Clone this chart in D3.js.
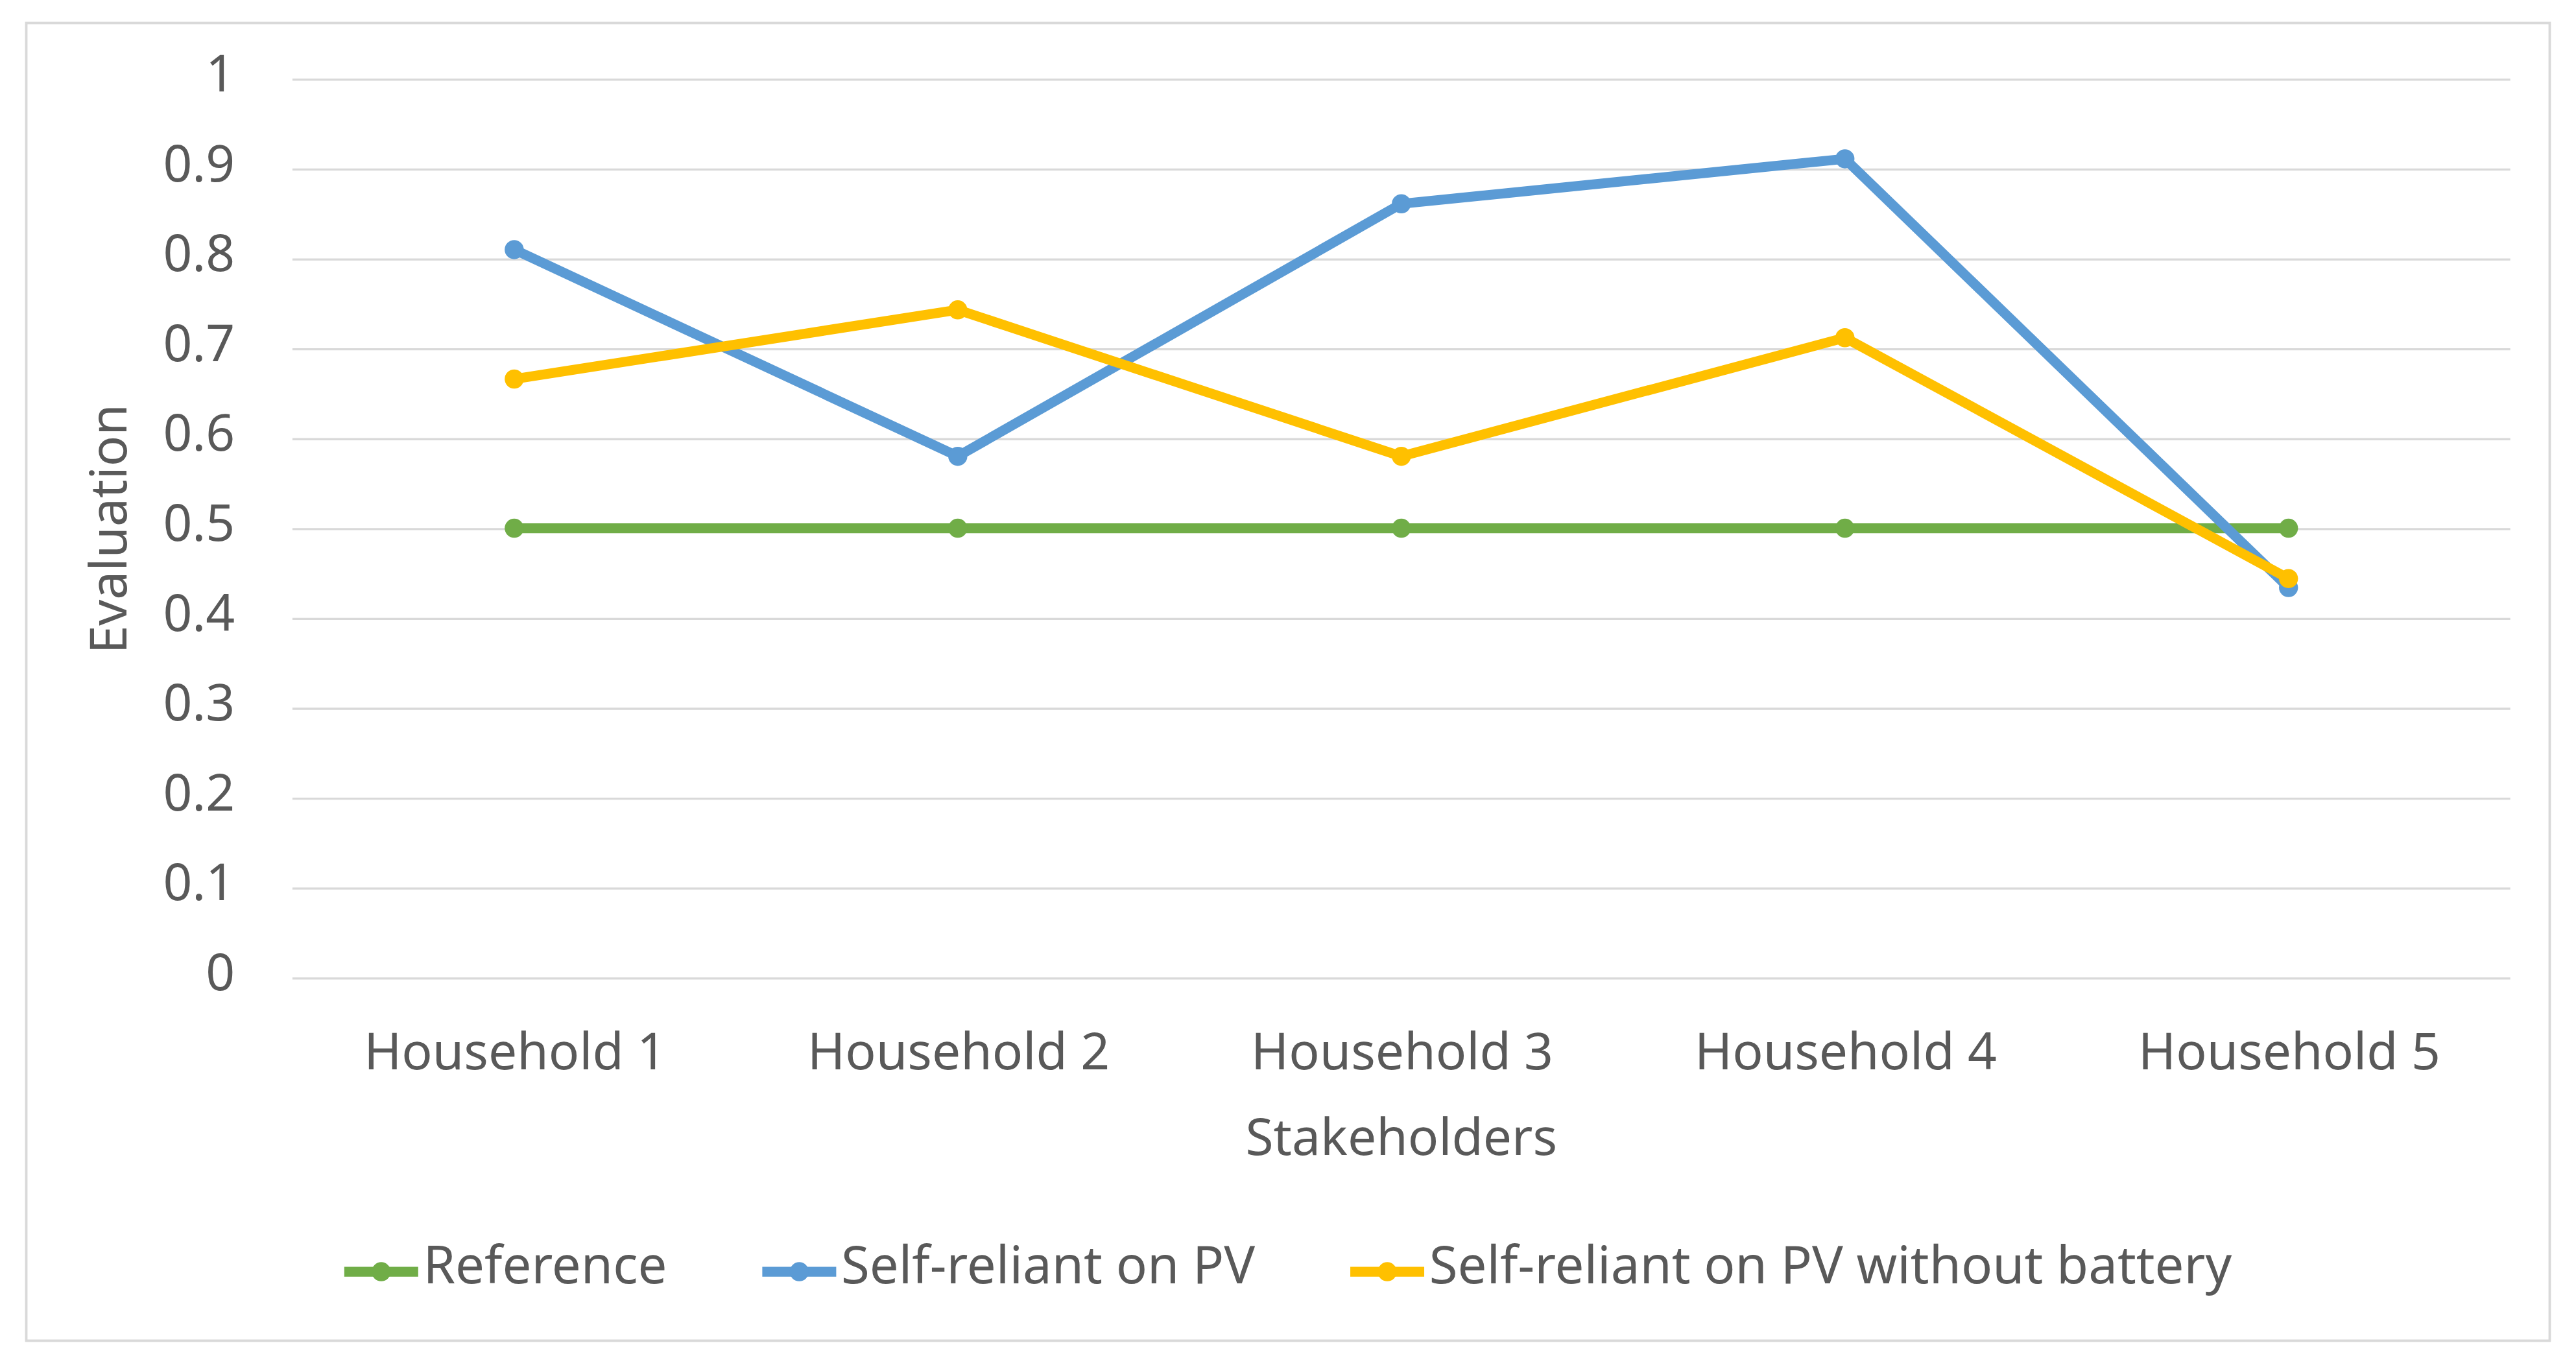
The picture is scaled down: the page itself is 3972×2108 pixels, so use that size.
<!DOCTYPE html>
<html>
<head>
<meta charset="utf-8">
<script src="https://cdn.jsdelivr.net/npm/d3@7"></script>
<style>
  html, body { margin: 0; padding: 0; background: #fff; }
  svg { display: block; }
  text { font-family: "Noto Sans", "Open Sans", sans-serif; fill: #595959; }
</style>
</head>
<body>
<div id="chart"></div>
<script>
// chart data
var categories = ["Household 1", "Household 2", "Household 3", "Household 4", "Household 5"];
var referenceVals = [0.5, 0.5, 0.5, 0.5, 0.5];
var selfReliantVals = [0.81, 0.58, 0.861, 0.911, 0.434];
var noBatteryVals = [0.666, 0.743, 0.58, 0.712, 0.444];
var seriesNames = ["Reference", "Self-reliant on PV", "Self-reliant on PV without battery"];
var yTickVals = [0, 0.1, 0.2, 0.3, 0.4, 0.5, 0.6, 0.7, 0.8, 0.9, 1];
var yTickLabels = ["0", "0.1", "0.2", "0.3", "0.4", "0.5", "0.6", "0.7", "0.8", "0.9", "1"];

var colors = ["#70ad47", "#5b9bd5", "#ffc000"];

// drawing in a 1568 x 832 coordinate space, stretched to the window
var W = 1568, H = 832;
var plot = {left: 178, right: 1528, top: 48, bottom: 595};
var fs = 31;

var svg = d3.select("#chart")
  .append("svg")
    .attr("width", 3972)
    .attr("height", 2108)
    .attr("viewBox", "0 0 " + W + " " + H)
    .attr("preserveAspectRatio", "none");

svg.append("rect")
  .attr("width", W).attr("height", H).attr("fill", "#fff");

// outer frame
svg.append("rect")
  .attr("x", 16).attr("y", 14)
  .attr("width", 1536).attr("height", 802)
  .attr("fill", "none")
  .attr("stroke", "#d9d9d9")
  .attr("stroke-width", 1.5);

var x = d3.scalePoint()
  .domain(categories)
  .range([plot.left, plot.right])
  .padding(0.5);

var y = d3.scaleLinear()
  .domain([0, 1])
  .range([plot.bottom, plot.top]);

// gridlines + y labels
var yAxis = svg.append("g")
  .attr("transform", "translate(" + plot.left + ",0)")
  .call(d3.axisLeft(y)
    .tickValues(yTickVals)
    .tickSize(-(plot.right - plot.left))
    .tickPadding(35)
    .tickFormat(function(d, i) { return yTickLabels[i]; }));
yAxis.select(".domain").remove();
yAxis.selectAll("line").attr("stroke", "#d9d9d9").attr("stroke-width", 1.3);
yAxis.selectAll("text")
  .attr("dy", "0.23em")
  .style("font-size", fs + "px")
  .style("font-family", "'Noto Sans', sans-serif")
  .attr("fill", "#595959");

// x labels
var xAxis = svg.append("g")
  .attr("transform", "translate(0," + plot.bottom + ")")
  .call(d3.axisBottom(x).tickSize(0));
xAxis.select(".domain").remove();
xAxis.selectAll("text")
  .attr("y", 56)
  .attr("dy", 0)
  .style("font-size", fs + "px")
  .style("font-family", "'Noto Sans', sans-serif")
  .attr("fill", "#595959");

// axis titles
svg.append("text")
  .attr("x", (plot.left + plot.right) / 2)
  .attr("y", 703)
  .attr("text-anchor", "middle")
  .style("font-size", fs + "px")
  .text("Stakeholders");

svg.append("text")
  .attr("transform", "translate(77," + 322 + ")rotate(-90)")
  .attr("text-anchor", "middle")
  .style("font-size", fs + "px")
  .text("Evaluation");

// series
var series = [referenceVals, selfReliantVals, noBatteryVals].map(function(vals, i) {
  return {name: seriesNames[i], color: colors[i],
          values: vals.map(function(v, j) { return {cat: categories[j], v: v}; })};
});

var line = d3.line()
  .x(function(d) { return x(d.cat); })
  .y(function(d) { return y(d.v); });

var sg = svg.append("g").selectAll("g")
  .data(series)
  .enter().append("g");

sg.append("path")
  .attr("d", function(d) { return line(d.values); })
  .attr("fill", "none")
  .attr("stroke", function(d) { return d.color; })
  .attr("stroke-width", 6)
  .attr("stroke-linejoin", "round");

sg.selectAll("circle")
  .data(function(d) { return d.values.map(function(p) { return {p: p, color: d.color}; }); })
  .enter().append("circle")
  .attr("cx", function(d) { return x(d.p.cat); })
  .attr("cy", function(d) { return y(d.p.v); })
  .attr("r", 5.8)
  .attr("fill", function(d) { return d.color; });

// legend
var legend = svg.append("g");
var lx = 0, gap = 58, segW = 45;
series.forEach(function(s) {
  var g = legend.append("g").attr("transform", "translate(" + lx + ",0)");
  g.append("line")
    .attr("x1", 0).attr("x2", segW)
    .attr("y1", 774).attr("y2", 774)
    .attr("stroke", s.color).attr("stroke-width", 6);
  g.append("circle")
    .attr("cx", segW / 2).attr("cy", 774).attr("r", 5.8)
    .attr("fill", s.color);
  var t = g.append("text")
    .attr("x", segW + 3).attr("y", 781)
    .style("font-size", "31.5px")
    .text(s.name);
  lx += segW + 3 + t.node().getComputedTextLength() + gap;
});
var legendW = lx - gap;
legend.attr("transform", "translate(" + ((16 + 1552) / 2 - legendW / 2) + ",0)");
</script>
</body>
</html>
